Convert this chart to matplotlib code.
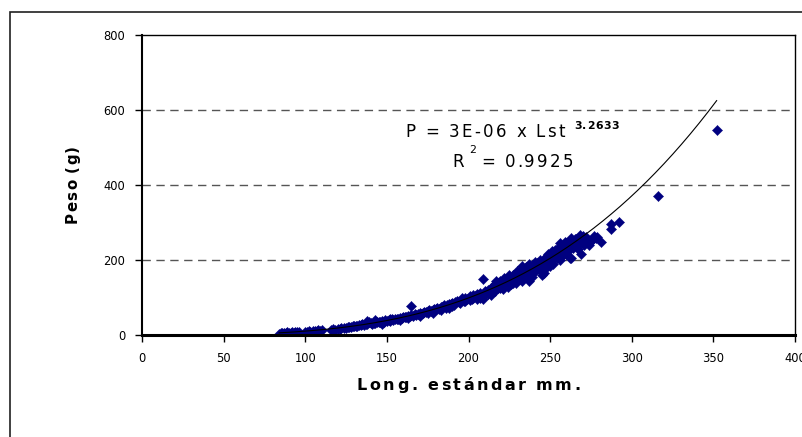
import matplotlib
matplotlib.use("Agg")
import matplotlib.pyplot as plt
from matplotlib.patches import Rectangle
from matplotlib.font_manager import FontProperties
import numpy as np

plt.rcParams['font.family'] = ['DejaVu Sans']

# Standard length (mm) and weight (g)
length_mm = [84, 85, 85, 86, 87, 87, 88, 89, 90, 90, 91, 92, 93, 94, 95, 96,
             100, 101, 102, 103, 105, 106, 107, 108, 109, 110,
             116, 117, 118, 120, 121, 122, 124, 125, 126, 127, 128, 129, 130,
             131, 132, 133, 134, 135, 136, 137, 138, 138, 139, 140, 141, 142,
             143, 144, 145, 146, 147, 148, 149, 150, 151, 152, 153, 154, 155,
             156, 157, 158, 159, 160, 161, 162, 163, 164, 165, 165, 166, 167,
             168, 169, 170, 171, 172, 173, 174, 175, 176, 177, 178, 179, 180,
             181, 182, 183, 184, 185, 186, 187, 188, 188, 189, 190, 191, 192,
             193, 194, 195, 196, 197, 198, 199, 200, 201, 202, 203, 204, 205,
             206, 207, 208, 209, 209, 210, 211, 212, 213, 214, 215, 215, 216,
             217, 218, 218, 219, 220, 220, 221, 222, 223, 223, 224, 225, 226,
             227, 227, 228, 229, 230, 231, 231, 232, 233, 233, 234, 235, 236,
             237, 238, 239, 240, 240, 241, 242, 243, 244, 245, 245, 246, 247,
             248, 249, 250, 250, 251, 252, 253, 254, 255, 256, 256, 257, 258,
             259, 260, 260, 261, 262, 263, 263, 264, 265, 266, 267, 268, 268,
             269, 270, 271, 272, 273, 275, 277, 278, 281, 287, 287, 292, 316,
             352,
             138, 143, 147, 152, 158, 163, 170, 175, 178, 183, 186, 190, 195,
             198, 201, 203, 196, 185, 205, 207, 212, 214, 216, 219, 221, 224,
             226, 228, 229, 232, 234, 236, 238, 239, 241, 242, 243, 244, 246,
             247, 248, 250, 251, 252, 254, 255, 257, 258, 259, 261, 262, 264,
             266, 267, 270, 272, 274, 276, 279, 217, 222, 225, 230, 235, 237,
             253, 256, 263]
weight_g = [4, 3, 6, 5, 4, 6, 5, 7, 6, 4, 5, 7, 6, 8, 9, 7,
            9, 8, 10, 9, 11, 10, 12, 13, 11, 14,
            13, 15, 14, 17, 16, 19, 18, 20, 21, 22, 21, 24, 23,
            25, 24, 27, 26, 29, 28, 30, 33, 29, 35, 31, 30, 33,
            32, 35, 34, 36, 37, 35, 39, 38, 40, 37, 42, 41, 43,
            44, 42, 46, 45, 48, 47, 49, 51, 50, 77, 53, 52, 55,
            54, 57, 58, 56, 60, 62, 61, 63, 66, 64, 67, 69, 70,
            72, 69, 75, 74, 77, 76, 80, 73, 82, 84, 85, 81, 88,
            90, 87, 92, 95, 91, 98, 96, 100, 103, 97, 107, 104, 110,
            108, 112, 105, 150, 96, 118, 115, 121, 117, 125, 130, 120, 135,
            128, 140, 126, 145, 138, 130, 148, 133, 150, 142, 127, 155, 147,
            160, 140, 152, 165, 158, 150, 168, 162, 185, 145, 170, 165, 175,
            143, 180, 172, 188, 168, 195, 178, 185, 200, 190, 160, 166, 205,
            195, 215, 210, 185, 200, 220, 208, 225, 215, 235, 200, 222, 240,
            230, 245, 215, 238, 205, 250, 206, 232, 255, 240, 260, 268, 245,
            216, 255, 240, 262, 248, 250, 265, 258, 247, 283, 297, 302, 372,
            548,
            38, 40, 30, 44, 40, 45, 52, 58, 60, 68, 72, 78, 86,
            90, 94, 98, 100, 80, 95, 100, 110, 108, 118, 125, 122, 140,
            135, 145, 138, 150, 158, 160, 165, 155, 170, 192, 175, 180, 185,
            175, 210, 195, 225, 190, 205, 232, 210, 220, 248, 225, 240, 250,
            255, 230, 265, 250, 240, 255, 262, 145, 152, 160, 172, 182, 190,
            228, 245, 260]

# Power trend line shown on the chart: P = 3E-06 x Lst^3.2633
coef_a = 3.06e-6
coef_b = 3.2633

W, H = 802, 437
fig = plt.figure(figsize=(W / 100, H / 100), dpi=100)
renderer = fig.canvas.get_renderer()


def spaced_text(s, x0, x1, ybase, size, weight='normal', vertical=False):
    """Draw text letter-spaced so that it spans from x0 to x1 (pixels,
    measured from the top-left); for vertical text x0..x1 run bottom-up and
    ybase is the baseline x."""
    prop = FontProperties(family='DejaVu Sans', size=size, weight=weight)
    bar = renderer.get_text_width_height_descent('|', prop, ismath=False)[0]

    def wid(t):
        return renderer.get_text_width_height_descent(t + '|', prop, ismath=False)[0] - bar

    natural = wid(s)
    n = len(s)
    sp = max((abs(x1 - x0) - natural) / max(n - 1, 1), 0)
    for i, c in enumerate(s):
        if c == ' ':
            continue
        off = wid(s[:i]) + sp * i
        if vertical:
            xy = (ybase, H - x0 + off)
            rot = 90
        else:
            xy = (x0 + off, H - ybase)
            rot = 0
        fig.text(xy[0] / W, xy[1] / H, c, fontproperties=prop,
                 ha='left', va='baseline', rotation=rot, rotation_mode='anchor')


# outer chart-area frame
fig.patches.append(Rectangle((10 / W, -0.1), 2.0, (H - 12) / H + 0.1,
                             transform=fig.transFigure, fill=False,
                             edgecolor='#202020', linewidth=1.2))

ax = fig.add_axes([142 / W, 102 / H, 653 / W, 300 / H])
ax.set_xlim(0, 400)
ax.set_ylim(0, 800)

for gy in [200, 400, 600]:
    ax.axhline(gy, color='#555555', linestyle=(0, (6, 4)), linewidth=1.0, zorder=1)

ax.scatter(length_mm, weight_g, marker='D', s=27, color='#000080',
           edgecolors='#000080', linewidths=0.3, zorder=3)

xs = np.linspace(min(length_mm), max(length_mm), 300)
ax.plot(xs, coef_a * xs ** coef_b, color='black', linewidth=0.8, zorder=4)

ax.set_xticks([0, 50, 100, 150, 200, 250, 300, 350, 400])
ax.set_yticks([0, 200, 400, 600, 800])
ax.tick_params(direction='out', length=5, width=1, labelsize=8.3, pad=7,
               colors='black', labelfontfamily='DejaVu Sans')
for side in ['top', 'right']:
    ax.spines[side].set_linewidth(1.0)
ax.spines['left'].set_linewidth(1.5)
ax.spines['bottom'].set_linewidth(2.2)
ax.spines['bottom'].set_zorder(5)
ax.patch.set_facecolor('white')

# axis titles (letter-spaced like the original)
spaced_text('Long. estándar mm.', 357, 580, 390, 11.5, weight='bold')
spaced_text('Peso (g)', 223, 145, 77, 10.8, weight='bold', vertical=True)

# trend-line equation
spaced_text('P = 3E-06 x Lst', 405, 565, 137, 12)
spaced_text('3.2633', 574, 619, 129, 7.8, weight='bold')
spaced_text('R', 452, 462, 167, 12)
spaced_text('2', 469, 475, 153, 7.8)
spaced_text('= 0.9925', 481, 573, 167, 12)

fig.savefig('out.png', dpi=100)
